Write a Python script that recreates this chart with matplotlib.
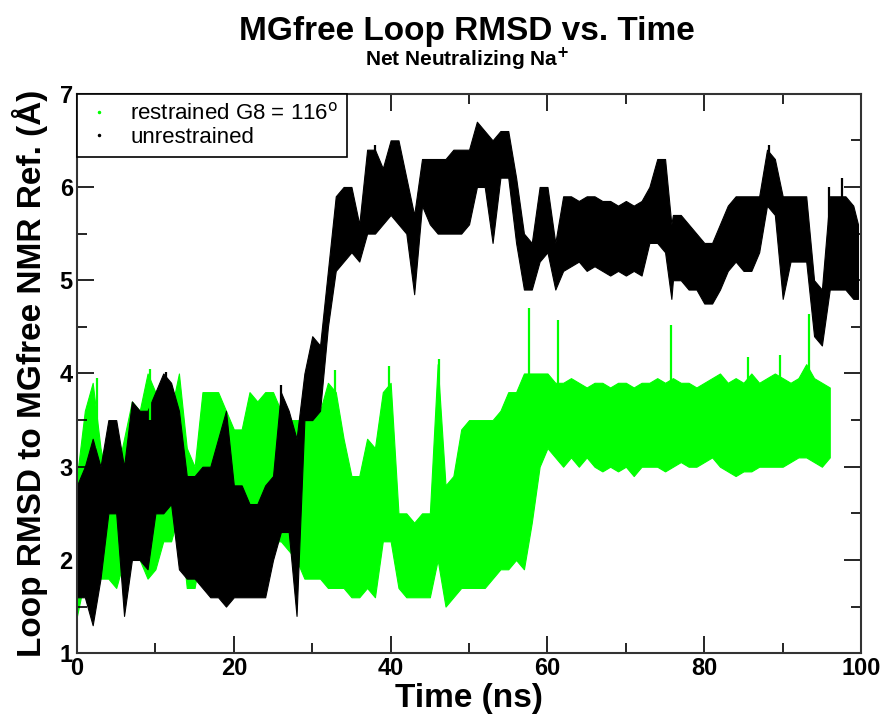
import numpy as np
import matplotlib
matplotlib.use("Agg")
import matplotlib.pyplot as plt
from matplotlib.lines import Line2D

plt.rcParams['font.family'] = ['Liberation Sans', 'DejaVu Sans']

# restrained G8 = 116 deg : low / high envelope per ns
green_t = list(range(0, 97))
green_lo = [1.4, 1.8, 1.8, 1.8, 1.8, 1.7, 2.0, 2.2, 2.0, 1.8,
            1.9, 2.2, 2.2, 2.5, 1.7, 1.7, 2.2, 2.6, 2.5, 2.4,
            2.5, 2.5, 2.5, 2.5, 2.4, 2.2, 2.2, 2.1, 2.0, 1.8,
            1.8, 1.8, 1.7, 1.7, 1.7, 1.6, 1.6, 1.7, 1.6, 2.2,
            2.2, 1.7, 1.6, 1.6, 1.6, 1.6, 2.0, 1.5, 1.6, 1.7,
            1.7, 1.7, 1.7, 1.8, 1.9, 1.9, 2.0, 1.9, 2.4, 3.0,
            3.2, 3.1, 3.0, 3.1, 3.0, 3.1, 3.0, 2.95, 3.0, 2.95,
            3.0, 2.9, 3.0, 3.0, 3.0, 2.95, 3.0, 3.05, 3.0, 3.0,
            3.05, 3.1, 3.0, 2.95, 2.9, 2.95, 2.95, 3.0, 3.0, 3.0,
            3.0, 3.05, 3.1, 3.1, 3.05, 3.0, 3.1]
green_hi = [2.9, 3.6, 3.9, 3.2, 2.8, 2.9, 3.3, 3.7, 3.6, 4.0,
            3.8, 3.8, 3.6, 4.0, 3.2, 3.0, 3.8, 3.8, 3.8, 3.6,
            3.4, 3.4, 3.8, 3.7, 3.8, 3.8, 3.6, 3.5, 3.5, 3.5,
            3.6, 3.6, 3.9, 3.8, 3.3, 2.9, 2.9, 3.3, 3.2, 3.8,
            3.9, 2.5, 2.5, 2.4, 2.5, 2.5, 4.1, 2.8, 2.9, 3.4,
            3.5, 3.5, 3.5, 3.5, 3.6, 3.8, 3.8, 4.0, 4.0, 4.0,
            4.0, 3.9, 3.9, 3.95, 3.9, 3.85, 3.9, 3.9, 3.85, 3.9,
            3.9, 3.85, 3.9, 3.9, 3.95, 3.9, 3.95, 3.9, 3.9, 3.85,
            3.9, 3.95, 4.0, 3.9, 3.95, 3.9, 4.0, 3.9, 3.95, 4.0,
            3.95, 3.9, 3.95, 4.1, 3.95, 3.9, 3.85]

# narrow spikes above the green band: time, base, top
green_spike_t = [2.5, 9.3, 32.9, 39.8, 46.2, 57.7, 61.3, 75.8, 85.6, 89.7, 93.3]
green_spike_lo = [3.2, 3.5, 3.3, 3.4, 3.0, 3.5, 3.8, 3.8, 3.8, 3.8, 3.8]
green_spike_hi = [3.95, 4.05, 4.04, 4.08, 4.15, 4.7, 4.57, 4.52, 4.18, 4.2, 4.64]

# unrestrained
black_t = list(range(0, 76)) + [75.8] + list(range(76, 100)) + [99.6]
black_lo = [1.6, 1.6, 1.3, 1.8, 2.5, 2.5, 1.4, 2.0, 2.0, 1.9,
            2.5, 2.5, 2.6, 1.9, 1.8, 1.8, 1.7, 1.6, 1.6, 1.5,
            1.6, 1.6, 1.6, 1.6, 1.6, 2.0, 2.3, 2.3, 1.4, 3.5,
            3.5, 3.6, 4.5, 5.1, 5.2, 5.3, 5.2, 5.5, 5.5, 5.6,
            5.7, 5.6, 5.5, 4.85, 5.8, 5.6, 5.5, 5.5, 5.5, 5.5,
            5.6, 6.0, 6.0, 5.4, 6.1, 6.1, 5.4, 4.9, 4.9, 5.2,
            5.3, 4.9, 5.1, 5.15, 5.2, 5.1, 5.15, 5.1, 5.05, 5.1,
            5.05, 5.1, 5.05, 5.4, 5.4, 5.3, 4.8,
            5.0, 5.0, 4.9, 4.9, 4.75, 4.75, 4.9, 5.1, 5.2, 5.1,
            5.1, 5.3, 5.8, 5.7, 4.8, 5.2, 5.2, 5.2, 4.4, 4.3,
            4.9, 4.9, 4.9, 4.8, 4.8]
black_hi = [2.8, 3.0, 3.3, 3.0, 3.5, 3.5, 3.0, 3.7, 3.6, 3.6,
            3.8, 4.0, 3.9, 3.6, 2.9, 2.9, 3.0, 3.0, 3.3, 3.6,
            2.8, 2.8, 2.6, 2.6, 2.8, 2.9, 3.8, 3.6, 3.3, 4.0,
            4.4, 4.3, 5.1, 5.9, 6.0, 6.0, 5.6, 6.4, 6.4, 6.2,
            6.5, 6.5, 6.1, 5.7, 6.3, 6.3, 6.3, 6.3, 6.4, 6.4,
            6.4, 6.7, 6.6, 6.5, 6.6, 6.6, 6.1, 5.5, 5.4, 6.0,
            6.0, 5.4, 5.9, 5.9, 5.85, 5.9, 5.9, 5.85, 5.85, 5.8,
            5.85, 5.8, 5.85, 6.0, 6.3, 6.3, 5.6,
            5.7, 5.7, 5.6, 5.5, 5.4, 5.4, 5.6, 5.8, 5.9, 5.9,
            5.9, 5.9, 6.4, 6.3, 5.9, 5.9, 5.9, 5.9, 5.0, 4.9,
            5.9, 5.9, 5.9, 5.8, 5.6]

black_spike_t = [11.4, 26.0, 38.0, 88.2, 95.9, 97.6]
black_spike_lo = [3.6, 3.5, 6.2, 6.2, 5.6, 5.7]
black_spike_hi = [4.02, 3.88, 6.45, 6.45, 6.0, 6.1]

GREEN = '#00ff00'

fig = plt.figure(figsize=(8.85, 7.21), dpi=100)
ax = fig.add_axes([0.087, 0.094, 0.886, 0.776])

ax.fill_between(green_t, green_lo, green_hi, color=GREEN, lw=0.8, edgecolor=GREEN)
ax.vlines(green_spike_t, green_spike_lo, green_spike_hi, color=GREEN, lw=1.6)
ax.fill_between(black_t, black_lo, black_hi, color='black', lw=0.8, edgecolor='black')
ax.vlines(black_spike_t, black_spike_lo, black_spike_hi, color='black', lw=1.6)

ax.set_xlim(0, 100)
ax.set_ylim(1, 7)
ax.set_xticks(range(0, 101, 20))
ax.set_xticks(range(10, 100, 20), minor=True)
ax.set_yticks(range(1, 8))
ax.set_yticks(np.arange(1.5, 7, 1.0), minor=True)
ax.tick_params(which='both', direction='in', top=True, right=True, width=1.2)
ax.tick_params(which='major', length=12, labelsize=17, pad=3)
ax.tick_params(which='minor', length=7)
for lab in ax.get_xticklabels() + ax.get_yticklabels():
    lab.set_fontweight('bold')
for s in ax.spines.values():
    s.set_linewidth(1.5)
    s.set_color('#333333')

ax.set_xlabel('Time (ns)', fontsize=24, fontweight='bold', labelpad=2)
ax.set_ylabel('Loop RMSD to MGfree NMR Ref. (Å)', fontsize=24, fontweight='bold', labelpad=8)

fig.text(0.528, 0.957, 'MGfree Loop RMSD vs. Time', ha='center', va='center',
         fontsize=24, fontweight='bold')
fig.text(0.528, 0.918, 'Net Neutralizing Na$^{\\mathbf{+}}$', ha='center', va='center',
         fontsize=15, fontweight='bold')

handles = [Line2D([], [], ls='none', marker='.', ms=3, color=GREEN),
           Line2D([], [], ls='none', marker='.', ms=3, color='black')]
leg = ax.legend(handles, ['restrained G8 = 116$^{\\mathrm{o}}$', 'unrestrained'],
                loc='upper left', borderaxespad=0, fontsize=16, frameon=True,
                fancybox=False, handlelength=1.2, handletextpad=0.8,
                labelspacing=0.1, borderpad=0.4)
leg.get_frame().set_edgecolor('black')
leg.get_frame().set_linewidth(1.2)
leg.get_frame().set_alpha(1)

fig.savefig('out.png', dpi=100)
